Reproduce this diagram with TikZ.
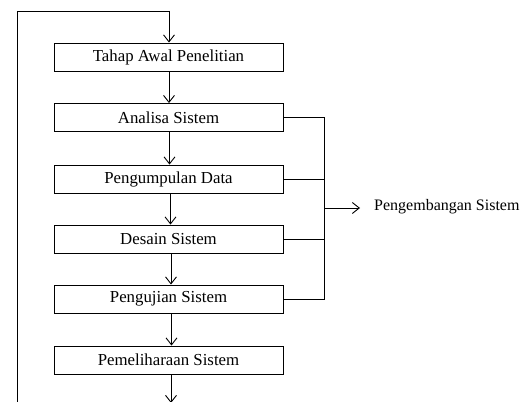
\documentclass[tikz,border=0pt]{standalone}
\usepackage{fontspec}
\setmainfont{Liberation Serif}
\usetikzlibrary{arrows.meta}
\begin{document}
\begin{tikzpicture}[x=1pt,y=-1pt,
  stagebox/.style={draw, line width=0.9pt, minimum width=229pt, minimum height=28pt, inner sep=0pt, font=\fontsize{16.8}{19}\selectfont},
  link/.style={draw, line width=0.9pt, -{Straight Barb[length=7pt,width=11pt,line width=0.9pt]}},
  plain/.style={draw, line width=0.9pt}]
\useasboundingbox (0,0) rectangle (526,401);
\clip (0,0) rectangle (526,401);
\node[stagebox] (b1) at (168.5,57) {Tahap Awal Penelitian};
\node[stagebox] (b2) at (168.5,117.5) {Analisa Sistem};
\node[stagebox] (b3) at (168.5,179) {Pengumpulan Data};
\node[stagebox] (b4) at (168.5,239) {Desain Sistem};
\node[stagebox] (b5) at (168.5,299) {Pengujian Sistem};
\node[stagebox] (b6) at (168.5,360) {Pemeliharaan Sistem};
\node[anchor=west, inner sep=0pt, font=\fontsize{16}{19}\selectfont] (dev) at (374,207) {Pengembangan Sistem};
\coordinate (lb) at (17,410);
\coordinate (lt) at (17,11);
\coordinate (rt) at (169,11);
\coordinate (bend) at (171,403);
\coordinate (bt) at (324,117.5);
\coordinate (bb) at (324,299);
\coordinate (bm) at (324,208);
\draw[plain] (lb) -- (lt) -- (rt);
\draw[link] (rt) -- (b1.north -| rt);
\draw[link] (b1.south -| rt) -- (b2.north -| rt);
\draw[link] (b2.south -| 169.5,0) -- (b3.north -| 169.5,0);
\draw[link] (b3.south -| 170.5,0) -- (b4.north -| 170.5,0);
\draw[link] (b4.south -| 171,0) -- (b5.north -| 171,0);
\draw[link] (b5.south -| 171.5,0) -- (b6.north -| 171.5,0);
\draw[link] (b6.south -| bend) -- (bend);
\draw[plain] (b2.east) -- (bt) -- (bb) -- (b5.east);
\draw[plain] (b3.east) -- (b3.east -| bt);
\draw[plain] (b4.east) -- (b4.east -| bt);
\draw[link] (bm) -- (360,208);
\end{tikzpicture}
\end{document}
